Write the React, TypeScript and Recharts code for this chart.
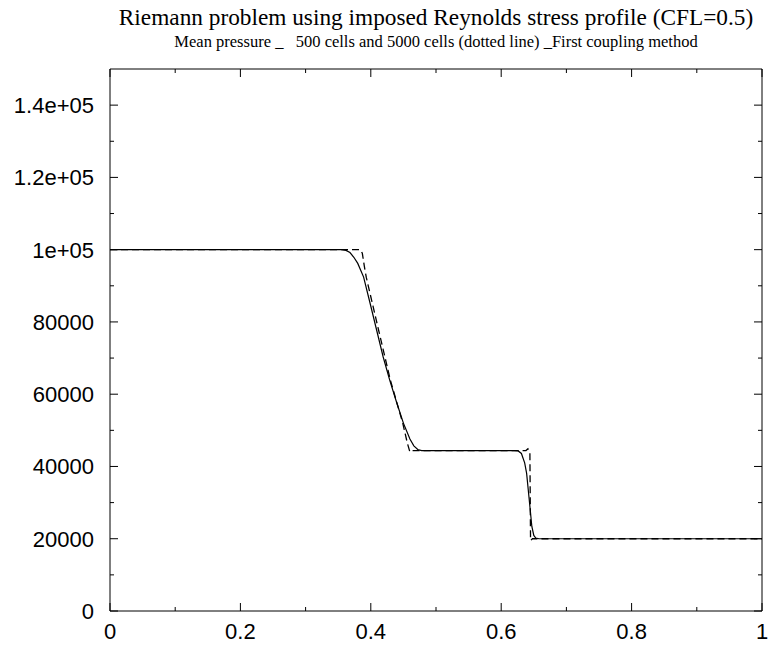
import React from "react";
import { LineChart, Line, XAxis, YAxis } from "recharts";

// 500 cells (solid line)
const coarseX = [0, 0.355, 0.362, 0.368, 0.374, 0.38, 0.389, 0.399, 0.409, 0.419, 0.429, 0.44, 0.45, 0.46, 0.466, 0.472, 0.478, 0.62, 0.626, 0.631, 0.636, 0.639, 0.643, 0.647, 0.65, 0.653, 0.658, 1];
const coarseP = [100000, 100000, 99800, 99200, 97900, 96200, 92400, 85100, 77700, 70300, 63900, 57500, 52000, 47600, 45700, 44700, 44400, 44400, 44300, 43600, 41000, 38100, 30800, 23400, 20900, 20200, 20000, 20000];

// 5000 cells (dotted line)
const fineX = [0, 0.384, 0.387, 0.39, 0.393, 0.412, 0.43, 0.449, 0.456, 0.46, 0.464, 0.638, 0.641, 0.644, 0.645, 0.648, 1];
const fineP = [100000, 100000, 99000, 95500, 92400, 77700, 63900, 52000, 46500, 44000, 44400, 44400, 44900, 44000, 19500, 20000, 20000];

const xTicks = [0, 0.1, 0.2, 0.3, 0.4, 0.5, 0.6, 0.7, 0.8, 0.9, 1];
const xLabels = ["0", "", "0.2", "", "0.4", "", "0.6", "", "0.8", "", "1"];
const yTicks = [0, 10000, 20000, 30000, 40000, 50000, 60000, 70000, 80000, 90000, 100000, 110000, 120000, 130000, 140000];
const yLabels = ["0", "", "20000", "", "40000", "", "60000", "", "80000", "", "1e+05", "", "1.2e+05", "", "1.4e+05"];

const title = "Riemann problem using imposed Reynolds stress profile (CFL=0.5)";
const subtitle = "Mean pressure _   500 cells and 5000 cells (dotted line) _First coupling method";

const coarse = coarseX.map((x, i) => ({ x, p: coarseP[i] }));
const fine = fineX.map((x, i) => ({ x, p: fineP[i] }));

const tickFont = { fontFamily: "'Liberation Sans', Arial, sans-serif", fontSize: 22, fill: "#000" };

const BottomTick = (props: any) => {
  const { x, y, index } = props;
  const label = xLabels[index] ?? "";
  const major = label !== "";
  return (
    <g>
      <line x1={x} x2={x} y1={y} y2={y - (major ? 8 : 4)} stroke="#000" strokeWidth={1} />
      {major && (
        <text x={x} y={y + 28} textAnchor="middle" {...tickFont}>
          {label}
        </text>
      )}
    </g>
  );
};

const TopTick = (props: any) => {
  const { x, y, index } = props;
  const major = (xLabels[index] ?? "") !== "";
  return <line x1={x} x2={x} y1={y} y2={y + (major ? 8 : 4)} stroke="#000" strokeWidth={1} />;
};

const LeftTick = (props: any) => {
  const { x, y, index } = props;
  const label = yLabels[index] ?? "";
  const major = label !== "";
  return (
    <g>
      <line x1={x} x2={x + (major ? 8 : 4)} y1={y} y2={y} stroke="#000" strokeWidth={1} />
      {major && (
        <text x={x - 16} y={y + 8} textAnchor="end" {...tickFont}>
          {label}
        </text>
      )}
    </g>
  );
};

const RightTick = (props: any) => {
  const { x, y, index } = props;
  const major = (yLabels[index] ?? "") !== "";
  return <line x1={x} x2={x - (major ? 8 : 4)} y1={y} y2={y} stroke="#000" strokeWidth={1} />;
};

export default function App() {
  return (
    <div style={{ position: "absolute", left: 0, top: 0, width: 769, height: 648, background: "#fff" }}>
      <LineChart width={769} height={648} margin={{ top: 68, right: 6, bottom: 0, left: 0 }}>
        <XAxis
          dataKey="x"
          type="number"
          domain={[0, 1]}
          ticks={xTicks}
          interval={0}
          height={37}
          tickSize={0}
          tickMargin={0}
          tickLine={false}
          tick={<BottomTick />}
          axisLine={{ stroke: "#000" }}
          allowDataOverflow
        />
        <XAxis
          xAxisId="top"
          orientation="top"
          dataKey="x"
          type="number"
          domain={[0, 1]}
          ticks={xTicks}
          interval={0}
          height={1}
          tickSize={0}
          tickMargin={0}
          tickLine={false}
          tick={<TopTick />}
          axisLine={{ stroke: "#000" }}
          allowDataOverflow
        />
        <YAxis
          type="number"
          domain={[0, 150000]}
          ticks={yTicks}
          interval={0}
          width={110}
          tickSize={0}
          tickMargin={0}
          tickLine={false}
          tick={<LeftTick />}
          axisLine={{ stroke: "#000" }}
          allowDataOverflow
        />
        <YAxis
          yAxisId="right"
          orientation="right"
          type="number"
          domain={[0, 150000]}
          ticks={yTicks}
          interval={0}
          width={1}
          tickSize={0}
          tickMargin={0}
          tickLine={false}
          tick={<RightTick />}
          axisLine={{ stroke: "#000" }}
          allowDataOverflow
        />
        <Line
          data={coarse}
          dataKey="p"
          xAxisId="top"
          yAxisId="right"
          type="linear"
          stroke="none"
          dot={false}
          activeDot={false}
          legendType="none"
          isAnimationActive={false}
        />
        <Line
          data={fine}
          dataKey="p"
          type="linear"
          stroke="#000"
          strokeWidth={1.3}
          strokeDasharray="7 4"
          dot={false}
          activeDot={false}
          isAnimationActive={false}
        />
        <Line
          data={coarse}
          dataKey="p"
          type="linear"
          stroke="#000"
          strokeWidth={1.2}
          dot={false}
          activeDot={false}
          isAnimationActive={false}
        />
      </LineChart>
      <svg width={769} height={648} style={{ position: "absolute", left: 0, top: 0, pointerEvents: "none" }}>
        <text x={436} y={25} textAnchor="middle" fontFamily="'Liberation Serif', 'Times New Roman', serif" fontSize={23.3} fill="#000">
          {title}
        </text>
        <text x={436} y={47} textAnchor="middle" fontFamily="'Liberation Serif', 'Times New Roman', serif" fontSize={16.5} fill="#000" style={{ whiteSpace: "pre" }}>
          {subtitle}
        </text>
      </svg>
    </div>
  );
}
